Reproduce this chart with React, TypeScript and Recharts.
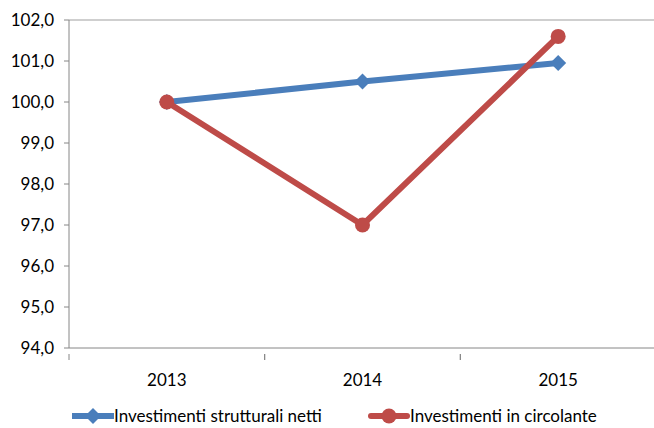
import React from 'react';
import { LineChart, Line, XAxis, YAxis, ReferenceLine, Legend } from 'recharts';

const years = ['2013', '2014', '2015'];
const strutturali = [100.0, 100.5, 100.95];
const circolante = [100.0, 97.0, 101.6];
const yTicks = [94, 95, 96, 97, 98, 99, 100, 101, 102];

const data = years.map((year, i) => ({
  year,
  strutturali: strutturali[i],
  circolante: circolante[i],
}));

const BLUE = '#4a7ebb';
const RED = '#be4b48';
const AXIS = '#868686';
const FONT = 'Lato, "Open Sans", sans-serif';

const W = 654;
const H = 428;
const LEFT = 69;
const PLOT_W = 587;
const HALF = PLOT_W / years.length / 2;

const fmt = (v: number) => v.toFixed(1).replace('.', ',');

const Diamond = (props: any) => {
  const { cx, cy } = props;
  if (cx == null || cy == null) return null;
  const r = 8;
  return (
    <polygon
      points={`${cx},${cy - r} ${cx + r},${cy} ${cx},${cy + r} ${cx - r},${cy}`}
      fill={BLUE}
    />
  );
};

const XTick = (props: any) => {
  const { x, y, payload } = props;
  return (
    <g>
      <line x1={x - HALF} y1={y - 2} x2={x - HALF} y2={y + 4} stroke={AXIS} />
      <line x1={x + HALF} y1={y - 2} x2={x + HALF} y2={y + 4} stroke={AXIS} />
      <text x={x} y={y + 30} textAnchor="middle" fill="#000" fontSize={17} fontFamily={FONT}>
        {payload.value}
      </text>
    </g>
  );
};

const LegendBox = () => (
  <div style={{ position: 'relative', height: 24, fontFamily: FONT, fontSize: 17, color: '#000' }}>
    <div style={{ position: 'absolute', left: 72, top: 0, display: 'flex', alignItems: 'center' }}>
      <svg width={42} height={20}>
        <line x1={1} y1={10} x2={41} y2={10} stroke={BLUE} strokeWidth={6} strokeLinecap="round" />
        <polygon points="21,2 29,10 21,18 13,10" fill={BLUE} />
      </svg>
      <span>Investimenti strutturali netti</span>
    </div>
    <div style={{ position: 'absolute', left: 368, top: 0, display: 'flex', alignItems: 'center' }}>
      <svg width={42} height={20}>
        <line x1={3} y1={10} x2={39} y2={10} stroke={RED} strokeWidth={6} strokeLinecap="round" />
        <circle cx={21} cy={10} r={7.5} fill={RED} />
      </svg>
      <span>Investimenti in circolante</span>
    </div>
  </div>
);

export default function App() {
  return (
    <div style={{ position: 'absolute', left: 0, top: 0, background: '#fff' }}>
      <LineChart width={W} height={H} data={data} margin={{ top: 20, right: W - LEFT - PLOT_W, left: 0, bottom: 26 }}>
        <ReferenceLine y={102} stroke="#bfbfbf" strokeWidth={1.5} />
        <XAxis
          dataKey="year"
          axisLine={{ stroke: AXIS }}
          tickLine={false}
          tick={<XTick />}
          height={30}
          interval={0}
          padding={{ left: HALF, right: HALF }}
        />
        <YAxis
          domain={[94, 102]}
          ticks={yTicks}
          tickFormatter={fmt}
          width={LEFT}
          axisLine={{ stroke: AXIS }}
          tickLine={{ stroke: AXIS }}
          tickSize={5}
          tickMargin={10}
          tick={{ fill: '#000', fontSize: 17, fontFamily: FONT }}
        />
        <Line
          dataKey="strutturali"
          stroke={BLUE}
          strokeWidth={6}
          dot={<Diamond />}
          isAnimationActive={false}
        />
        <Line
          dataKey="circolante"
          stroke={RED}
          strokeWidth={6}
          dot={{ r: 7.5, fill: RED, stroke: RED, strokeWidth: 0 }}
          isAnimationActive={false}
        />
        <Legend content={<LegendBox />} wrapperStyle={{ left: 0, top: 405, width: W }} />
      </LineChart>
    </div>
  );
}
